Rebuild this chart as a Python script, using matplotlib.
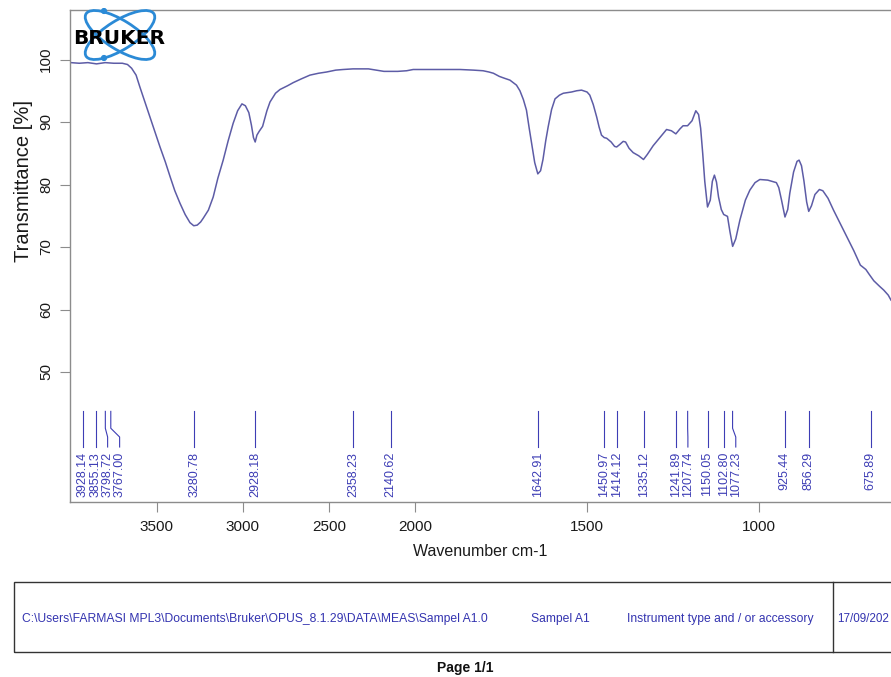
import numpy as np
import matplotlib
matplotlib.use("Agg")
import matplotlib.pyplot as plt
from matplotlib.patches import Ellipse, Rectangle, Circle
from matplotlib.lines import Line2D

plt.rcParams['font.family'] = ['Liberation Sans', 'DejaVu Sans']

# ---------------- data ----------------
wavenumber = [4000, 3950, 3900, 3850, 3800, 3750, 3700, 3670, 3646, 3620, 3598, 3570,
              3540, 3510, 3481, 3450, 3423, 3395, 3365, 3335, 3307, 3285, 3265, 3245,
              3230, 3200, 3172, 3145, 3114, 3085, 3056, 3030, 3005, 2985, 2965, 2950,
              2938, 2928, 2918, 2905, 2885, 2860, 2842, 2810, 2784, 2740, 2707, 2660,
              2610, 2560, 2513, 2460, 2417, 2360, 2320, 2270, 2223, 2180, 2145, 2100,
              2048, 2010, 1966, 1920, 1869, 1830, 1802, 1785, 1772, 1755, 1740, 1724,
              1705, 1695, 1685, 1676, 1668, 1661, 1652, 1643, 1635, 1628, 1620, 1613,
              1603, 1593, 1580, 1569, 1545, 1530, 1516, 1500, 1492, 1482, 1472, 1465,
              1458, 1450, 1443, 1430, 1420, 1414, 1405, 1395, 1388, 1378, 1366, 1350,
              1336, 1325, 1308, 1290, 1269, 1255, 1242, 1230, 1221, 1208, 1195, 1184,
              1176, 1170, 1164, 1158, 1150, 1142, 1136, 1130, 1124, 1118, 1110, 1103,
              1092, 1085, 1077, 1068, 1056, 1040, 1027, 1012, 998, 975, 950, 943,
              935, 925, 917, 911, 900, 890, 884, 877, 870, 862, 856, 848,
              838, 825, 815, 800, 784, 765, 745, 725, 706, 690, 680, 667,
              650, 638, 625, 617]
transmittance = [99.5, 99.4, 99.5, 99.3, 99.5, 99.4, 99.4, 99.2, 98.6, 97.5, 95.6, 93.3,
                 90.8, 88.4, 86.0, 83.6, 81.3, 79.0, 77.0, 75.2, 73.9, 73.4, 73.5, 74.0,
                 74.6, 75.9, 78.0, 81.0, 83.9, 87.0, 89.8, 91.8, 92.9, 92.6, 91.5, 89.5,
                 87.5, 86.8, 87.9, 88.5, 89.3, 91.8, 93.2, 94.6, 95.2, 95.8, 96.3, 96.9,
                 97.5, 97.8, 98.0, 98.3, 98.4, 98.5, 98.5, 98.5, 98.3, 98.1, 98.1, 98.1,
                 98.2, 98.4, 98.4, 98.4, 98.4, 98.3, 98.2, 98.0, 97.8, 97.3, 97.0, 96.7,
                 95.9, 95.0, 93.6, 91.9, 89.0, 86.6, 83.5, 81.7, 82.2, 84.0, 87.0, 89.2,
                 92.0, 93.7, 94.3, 94.6, 94.8, 95.0, 95.1, 94.8, 94.3, 92.8, 90.8, 89.2,
                 87.9, 87.5, 87.4, 86.8, 86.1, 86.0, 86.4, 86.9, 86.8, 85.8, 85.1, 84.6,
                 84.0, 84.8, 86.2, 87.4, 88.8, 88.6, 88.1, 88.9, 89.4, 89.4, 90.2, 91.8,
                 91.2, 89.0, 85.0, 80.5, 76.4, 77.5, 80.5, 81.5, 80.4, 78.0, 76.0, 75.2,
                 74.9, 72.5, 70.1, 71.3, 74.3, 77.5, 79.1, 80.3, 80.8, 80.7, 80.3, 79.5,
                 77.5, 74.8, 76.0, 78.6, 82.0, 83.7, 83.9, 83.0, 80.6, 77.2, 75.7, 76.6,
                 78.4, 79.2, 79.0, 77.8, 75.9, 73.8, 71.6, 69.4, 67.1, 66.4, 65.6, 64.6,
                 63.7, 63.1, 62.3, 61.5]
peaks = [3928.14, 3855.13, 3798.72, 3767.00, 3280.78, 2928.18, 2358.23, 2140.62,
         1642.91, 1450.97, 1414.12, 1335.12, 1241.89, 1207.74, 1150.05, 1102.80,
         1077.23, 925.44, 856.29, 675.89]
x_ticks = [3500, 3000, 2500, 2000, 1500, 1000]
y_ticks = [50, 60, 70, 80, 90, 100]
footer_path = r"C:\Users\FARMASI MPL3\Documents\Bruker\OPUS_8.1.29\DATA\MEAS\Sampel A1.0"
footer_sample = "Sampel A1"
footer_instr = "Instrument type and / or accessory"
footer_date = "17/09/202"
page_text = "Page 1/1"

# ---------------- figure ----------------
W, H = 891, 677
fig = plt.figure(figsize=(W / 100, H / 100), dpi=100)
fig.patch.set_facecolor('white')

ax = fig.add_axes([70 / W, 1 - 502 / H, (W - 70) / W, (502 - 9.5) / H])


def fwd(x):
    x = np.asarray(x, dtype=float)
    return np.where(x > 2000, 2000 + (x - 2000) / 2.0, x)


def inv(u):
    u = np.asarray(u, dtype=float)
    return np.where(u > 2000, 2000 + (u - 2000) * 2.0, u)


ax.set_xscale('function', functions=(fwd, inv))
ax.set_xlim(4004, 617)
ax.set_ylim(29.2, 108)

line_col = '#5d5ca6'
label_col = '#3d3db5'
spine_col = '#8c8c8c'

ax.plot(wavenumber, transmittance, color=line_col, lw=1.1)

ax.set_xticks(x_ticks)
ax.set_xticklabels([str(t) for t in x_ticks])
ax.set_yticks(y_ticks)
ax.set_yticklabels([str(t) for t in y_ticks])
ax.tick_params(axis='both', direction='out', length=7, width=0.8, color=spine_col,
               labelsize=11, labelcolor='#1a1a1a')
ax.tick_params(axis='x', pad=6)
ax.tick_params(axis='y', pad=5)
for lbl in ax.get_yticklabels():
    lbl.set_rotation(90)
    lbl.set_va('center')
    lbl.set_ha('right')
ax.minorticks_off()

for s in ['top', 'left', 'bottom']:
    ax.spines[s].set_color(spine_col)
    ax.spines[s].set_linewidth(1.0)
ax.spines['right'].set_visible(False)

ax.set_xlabel('Wavenumber cm-1', fontsize=11.5, labelpad=7, color='#1a1a1a')
ax.set_ylabel('Transmittance [%]', fontsize=14.5, color='#1a1a1a')
ax.yaxis.set_label_coords(-(70 - 24) / (W - 70), (502 - 181) / 492.5)
ax.yaxis.label.set_va('center')

# ---------------- peak labels ----------------
y_top, y_bend1, y_bend2, y_bot, y_text = 43.7, 41.0, 39.6, 38.0, 37.2
order = sorted(peaks, reverse=True)
px = [ax.transData.transform((p, 40.0))[0] for p in order]
lab_px = []
min_sep = 12.0
for i, x in enumerate(px):
    if i == 0:
        lab_px.append(x)
    else:
        lab_px.append(max(x, lab_px[-1] + min_sep))
for p, lx in zip(order, lab_px):
    lxd = ax.transData.inverted().transform((lx, 0))[0]
    ax.plot([p, p, lxd, lxd], [y_top, y_bend1, y_bend2, y_bot], color=label_col, lw=0.8)
    ax.text(lxd, y_text, f'{p:.2f}', rotation=90, ha='center', va='top',
            fontsize=9, color=label_col)

# ---------------- logo ----------------
lax = fig.add_axes([70 / W, 1 - 62 / H, 104 / W, 54 / H])
lax.set_xlim(70, 174)
lax.set_ylim(62, 8)
lax.axis('off')
logo_blue = '#2b8ad6'
for ang in (32, -32):
    lax.add_patch(Ellipse((120, 35), 80, 29, angle=ang, fill=False,
                          edgecolor=logo_blue, lw=2.0))
lax.add_patch(Circle((104, 11), 2.4, color=logo_blue))
lax.add_patch(Circle((104, 58), 2.4, color=logo_blue))
lax.text(119, 38, 'BRUKER', ha='center', va='center', fontsize=14.5,
         fontweight='bold', family='DejaVu Sans', color='black')

# ---------------- footer ----------------
fig.add_artist(Rectangle((14 / W, 1 - 652 / H), (905 - 14) / W, (652 - 582) / H,
                         transform=fig.transFigure, fill=False,
                         edgecolor='#333333', lw=1.0))
fig.add_artist(Line2D([833 / W, 833 / W], [1 - 652 / H, 1 - 582 / H],
                      transform=fig.transFigure, color='#333333', lw=1.0))
foot_font = ['Liberation Sans', 'DejaVu Sans']
foot_col = '#3434b0'
fy = 1 - 619 / H
fig.text(22 / W, fy, footer_path, ha='left', va='center', fontsize=8.7,
         color=foot_col, family=foot_font)
fig.text(531 / W, fy, footer_sample, ha='left', va='center', fontsize=8.7,
         color=foot_col, family=foot_font)
fig.text(627 / W, fy, footer_instr, ha='left', va='center', fontsize=8.7,
         color=foot_col, family=foot_font)
fig.text(837 / W, fy, footer_date, ha='left', va='center', fontsize=8.4,
         color=foot_col, family=foot_font)
fig.text(465 / W, 1 - 668 / H, page_text, ha='center', va='center', fontsize=10,
         fontweight='bold', color='#111111', family=foot_font)

fig.savefig('out.png', dpi=100)
